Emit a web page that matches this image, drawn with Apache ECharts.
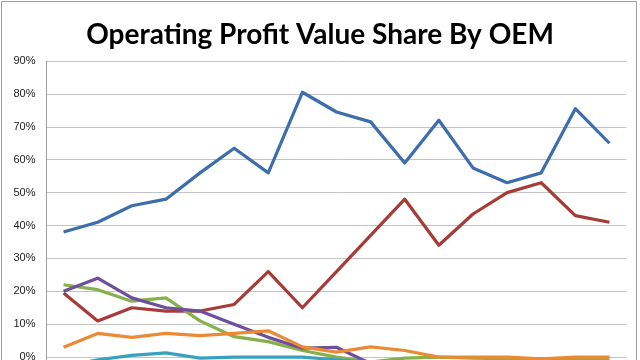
<!DOCTYPE html>
<html>
<head>
<meta charset="utf-8">
<script src="https://cdn.jsdelivr.net/npm/echarts@6/dist/echarts.min.js"></script>
<style>html,body{margin:0;padding:0;background:#fff;}#c{width:640px;height:360px;}</style>
</head>
<body>
<div id="c"></div>
<script>
const categories = ['1','2','3','4','5','6','7','8','9','10','11','12','13','14','15','16','17'];
const seriesA = [38, 41, 46, 48, 56, 63.5, 56, 80.5, 74.5, 71.5, 59, 72, 57.5, 53, 56, 75.5, 65];
const seriesB = [19.5, 11, 15, 14, 14, 16, 26, 15, 26, 37, 48, 34, 43.5, 50, 53, 43, 41];
const seriesC = [22, 20.5, 17, 18, 11, 6.2, 4.7, 2, 0, -1.5, -0.3, 0, -0.3, -0.5, -0.5, -0.5, -0.5];
const seriesD = [20, 24, 18, 15, 14, 10, 6, 2.7, 3, -2, -4, -4, -4, -4, -4, -4, -4];
const seriesE = [-3, -0.8, 0.5, 1.3, -0.3, 0, 0, 0, -0.8, -1.5, -1.5, -1.5, -1.5, -1.5, -1.5, -1.5, -1.5];
const seriesF = [3, 7.2, 6, 7.2, 6.5, 7.2, 8, 3.1, 1.5, 3.1, 2, 0, 0, 0, -0.5, 0, 0];
const seriesNames = ['A', 'B', 'C', 'D', 'E', 'F'];
const seriesData = [seriesA, seriesB, seriesC, seriesD, seriesE, seriesF];
const colors = ['#3d6dab', '#a73b38', '#86b04a', '#6e4f9c', '#3aa0bd', '#ec8a33'];
const yTicks = {min: -10, max: 90, interval: 10};

const chart = echarts.init(document.getElementById('c'), null, {renderer: 'canvas'});
chart.setOption({
  animation: false,
  backgroundColor: '#fff',
  title: {
    text: 'Operating Profit Value Share By OEM',
    left: 'center',
    top: 16,
    textStyle: {fontFamily: 'Lato', fontWeight: 'bold', fontSize: 28, color: '#000'}
  },
  graphic: [{
    type: 'rect',
    shape: {x: 1.5, y: 1.5, width: 635, height: 420},
    style: {fill: 'none', stroke: '#a0a0a0', lineWidth: 1},
    silent: true, z: -1
  }],
  grid: {left: 46.5, top: 61, width: 580, height: 329, containLabel: false, outerBoundsMode: 'none'},
  xAxis: {
    type: 'category',
    data: categories,
    boundaryGap: true,
    axisLine: {show: false},
    axisTick: {show: false},
    axisLabel: {show: false},
    splitLine: {show: false}
  },
  yAxis: {
    type: 'value',
    min: yTicks.min, max: yTicks.max, interval: yTicks.interval,
    axisLine: {show: true, lineStyle: {color: '#a0a0a0', width: 1}},
    axisTick: {show: false},
    axisLabel: {formatter: '{value}%', color: '#222', fontSize: 11, fontFamily: 'Liberation Sans', margin: 11},
    splitLine: {show: true, lineStyle: {color: '#c4c4c4', width: 1}}
  },
  series: seriesData.map((d, i) => ({
    name: seriesNames[i],
    type: 'line',
    data: d,
    symbol: 'none',
    lineStyle: {color: colors[i], width: 3.2, join: 'round'},
    itemStyle: {color: colors[i]},
    z: 2 + i
  }))
});
</script>
</body>
</html>
